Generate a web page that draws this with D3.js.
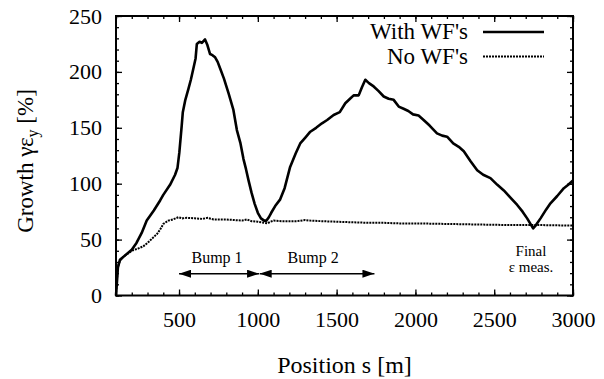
<!DOCTYPE html>
<html>
<head>
<meta charset="utf-8">
<script src="https://cdn.jsdelivr.net/npm/d3@7/dist/d3.min.js"></script>
<style>
  body { margin: 0; background: #fff; }
  svg text { font-family: "Liberation Serif", "Times New Roman", Times, Tinos, "Nimbus Roman", "DejaVu Serif", serif; fill: #000; }
</style>
</head>
<body>
<div id="chart"></div>
<script>
// Position s [m] and growth [%]
const withPos = [100, 105, 112, 125, 150, 200, 230, 263, 295, 340, 380, 400, 443, 475, 490, 502, 517, 524, 540, 560, 575, 591, 605, 613, 630, 645, 665, 680, 697, 712, 729, 745, 761, 785, 814, 845, 867, 890, 909, 925, 941, 960, 980, 1000, 1020, 1040, 1055, 1070, 1085, 1110, 1142, 1170, 1205, 1240, 1269, 1300, 1333, 1370, 1407, 1440, 1481, 1520, 1555, 1585, 1608, 1640, 1660, 1682, 1705, 1735, 1765, 1799, 1830, 1862, 1894, 1925, 1955, 1985, 2020, 2052, 2090, 2137, 2170, 2201, 2240, 2275, 2307, 2350, 2392, 2430, 2476, 2520, 2561, 2600, 2646, 2680, 2709, 2730, 2747, 2765, 2794, 2830, 2857, 2900, 2942, 2970, 3000];
const withVal = [0, 10, 25, 32, 35, 41, 47, 56, 67, 76, 85, 90, 99, 108, 114, 128, 152, 164, 175, 185, 193, 203, 212, 225, 227, 226, 229, 224, 216, 215, 213, 209, 203, 194, 181, 166, 148, 136, 122, 113, 103, 92, 82, 74, 69, 67, 67, 70, 74, 80, 86, 96, 115, 127, 136, 141, 146.5, 150, 154, 157, 161.5, 164, 172, 176, 179, 179, 186, 193, 190, 187, 183, 178, 176, 175, 169, 167, 165, 162, 161, 157, 152, 145, 143, 142, 136, 133, 129, 120, 112, 108, 105, 99, 94, 88, 81, 75, 69, 64, 60, 63, 69, 77, 82.5, 89, 96, 99, 103];

const noPos = [100, 105, 112, 125, 150, 200, 240, 273, 300, 337, 360, 380, 400, 432, 460, 496, 520, 550, 600, 650, 680, 720, 760, 800, 850, 900, 930, 960, 1000, 1040, 1060, 1080, 1100, 1150, 1200, 1250, 1300, 1333, 1400, 1500, 1600, 1700, 1800, 1900, 2000, 2200, 2400, 2600, 2800, 3000];
const noVal = [0, 12, 26, 31, 35, 40, 42, 44, 47, 52, 55, 59, 64, 67, 68, 70, 69, 69.5, 69, 68.5, 69.5, 68, 68, 68, 67.5, 67, 68, 66.5, 66, 65, 64.5, 66, 67, 66.5, 66.5, 66.5, 67.5, 67, 66.5, 66, 65.5, 65, 65, 64.5, 64.5, 64, 63.5, 63, 63, 62.5];

const xTicks = [500, 1000, 1500, 2000, 2500, 3000];
const yTicks = [0, 50, 100, 150, 200, 250];
const seriesNames = ["With WF's", "No WF's"];

// annotations: bump ranges in s
const bumpLabels = ["Bump 1", "Bump 2"];
const bumpFrom = [500, 1012];
const bumpTo = [1008, 1740];

const serif = "'Liberation Serif', 'Times New Roman', Times, Tinos, 'Nimbus Roman', 'DejaVu Serif', serif";

const width = 604, height = 379;
const margin = { top: 16, right: 31, bottom: 83.5, left: 116 };
const w = width - margin.left - margin.right;
const h = height - margin.top - margin.bottom;

const svg = d3.select("#chart").append("svg")
  .attr("width", width)
  .attr("height", height)
  .attr("font-family", serif);

const g = svg.append("g")
  .attr("transform", "translate(" + margin.left + "," + margin.top + ")");

const x = d3.scaleLinear().domain([100, 3000]).range([0, w]);
const y = d3.scaleLinear().domain([0, 250]).range([h, 0]);

const minorX = d3.range(100, 3001, 100);
const minorY = d3.range(0, 251, 10);

// minor ticks on all four sides
g.append("g").attr("transform", "translate(0," + h + ")")
  .call(d3.axisBottom(x).tickValues(minorX).tickSize(-3).tickFormat(""));
g.append("g")
  .call(d3.axisTop(x).tickValues(minorX).tickSize(-3).tickFormat(""));
g.append("g")
  .call(d3.axisLeft(y).tickValues(minorY).tickSize(-3).tickFormat(""));
g.append("g").attr("transform", "translate(" + w + ",0)")
  .call(d3.axisRight(y).tickValues(minorY).tickSize(-3).tickFormat(""));

// major ticks
g.append("g").attr("transform", "translate(0," + h + ")")
  .call(d3.axisBottom(x).tickValues(xTicks).tickSize(-6).tickPadding(16).tickFormat(d3.format("d")));
g.append("g")
  .call(d3.axisTop(x).tickValues(xTicks).tickSize(-6).tickFormat(""));
g.append("g")
  .call(d3.axisLeft(y).tickValues(yTicks).tickSize(-6).tickPadding(14).tickFormat(d3.format("d")));
g.append("g").attr("transform", "translate(" + w + ",0)")
  .call(d3.axisRight(y).tickValues(yTicks).tickSize(-6).tickFormat(""));

g.selectAll(".domain").remove();
g.selectAll("g").attr("font-family", serif);
g.selectAll(".tick line").attr("stroke", "#000").attr("stroke-width", 1.3);
g.selectAll(".tick text")
  .style("font-family", serif)
  .style("font-size", "22px")
  .attr("fill", "#000");

// frame
g.append("rect")
  .attr("width", w)
  .attr("height", h)
  .attr("fill", "none")
  .attr("stroke", "#000")
  .attr("stroke-width", 2);

// curves
const lineWith = d3.line().x((d, i) => x(withPos[i])).y(d => y(d));
const lineNo = d3.line().x((d, i) => x(noPos[i])).y(d => y(d));

g.append("path")
  .datum(noVal)
  .attr("d", lineNo)
  .attr("fill", "none")
  .attr("stroke", "#000")
  .attr("stroke-width", 2)
  .attr("stroke-dasharray", "2,1");

g.append("path")
  .datum(withVal)
  .attr("d", lineWith)
  .attr("fill", "none")
  .attr("stroke", "#000")
  .attr("stroke-width", 2.6)
  .attr("stroke-linejoin", "round");

// legend
const legendY = [32, 56.5];
seriesNames.forEach((name, i) => {
  svg.append("text")
    .attr("x", 468)
    .attr("y", legendY[i] + 7)
    .attr("text-anchor", "end")
    .style("font-family", serif)
    .style("font-size", "23px")
    .text(name);
  svg.append("line")
    .attr("x1", 483).attr("x2", 544)
    .attr("y1", legendY[i]).attr("y2", legendY[i])
    .attr("stroke", "#000")
    .attr("stroke-width", i === 0 ? 2.6 : 2)
    .attr("stroke-dasharray", i === 0 ? null : "2,1");
});

// bump arrows
const defs = svg.append("defs");
defs.append("marker")
  .attr("id", "arrow")
  .attr("viewBox", "0 0 12 8")
  .attr("refX", 12).attr("refY", 4)
  .attr("markerWidth", 12).attr("markerHeight", 8)
  .attr("markerUnits", "userSpaceOnUse")
  .attr("orient", "auto-start-reverse")
  .append("path")
  .attr("d", "M0,0 L12,4 L0,8 Z")
  .attr("fill", "#000");

const arrowY = y(19.5);
bumpLabels.forEach((label, i) => {
  g.append("line")
    .attr("x1", x(bumpFrom[i])).attr("x2", x(bumpTo[i]))
    .attr("y1", arrowY).attr("y2", arrowY)
    .attr("stroke", "#000")
    .attr("stroke-width", 1.4)
    .attr("marker-start", "url(#arrow)")
    .attr("marker-end", "url(#arrow)");
  g.append("text")
    .attr("x", (x(bumpFrom[i]) + x(bumpTo[i])) / 2 - (i === 0 ? 2 : 4))
    .attr("y", arrowY - 11)
    .attr("text-anchor", "middle")
    .style("font-family", serif)
    .style("font-size", "16px")
    .text(label);
});

// final emittance note
g.append("text")
  .attr("x", 531 - margin.left)
  .attr("y", 256 - margin.top)
  .attr("text-anchor", "middle")
  .style("font-family", serif)
  .style("font-size", "15px")
  .text("Final");
g.append("text")
  .attr("x", 531 - margin.left)
  .attr("y", 272 - margin.top)
  .attr("text-anchor", "middle")
  .style("font-family", serif)
  .style("font-size", "15px")
  .text("ε meas.");

// axis titles
svg.append("text")
  .attr("x", margin.left + w / 2)
  .attr("y", 373)
  .attr("text-anchor", "middle")
  .style("font-family", serif)
  .style("font-size", "24px")
  .text("Position s [m]");

const yTitle = svg.append("text")
  .attr("transform", "translate(33," + 161 + ") rotate(-90)")
  .attr("text-anchor", "middle")
  .style("font-family", serif)
  .style("font-size", "23px");
yTitle.append("tspan").text("Growth γε");
yTitle.append("tspan").attr("dy", 5).style("font-size", "16px").text("y");
yTitle.append("tspan").attr("dy", -5).text(" [%]");
</script>
</body>
</html>
